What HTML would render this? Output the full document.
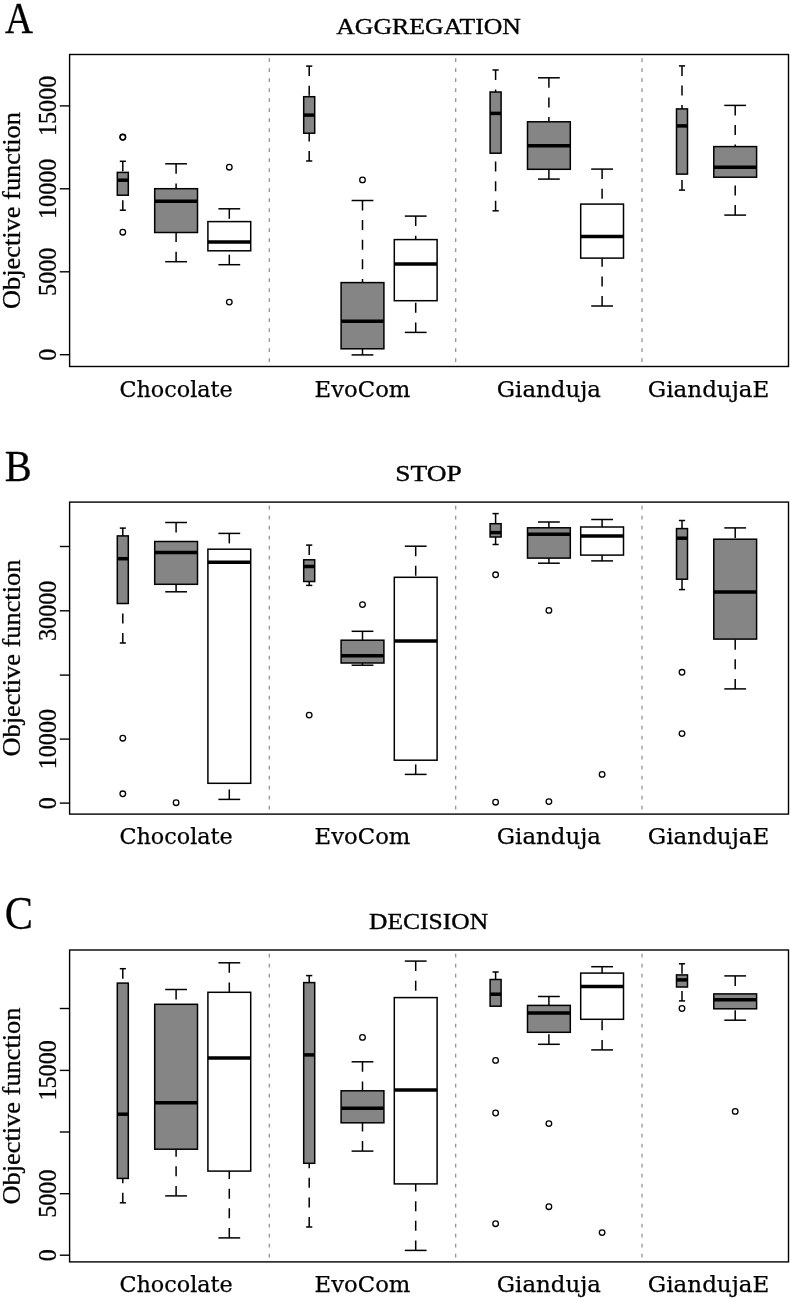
<!DOCTYPE html>
<html lang="en"><head><meta charset="utf-8"><title>Objective function boxplots</title>
<style>
html,body{margin:0;padding:0;background:#fff;}
body{width:791px;height:1301px;overflow:hidden;}
svg{display:block;}
.ser{font-family:"Liberation Serif","DejaVu Serif",serif;fill:#000;stroke:#000;stroke-width:0.3;}
.ttl{stroke-width:0.35;}
.xl{font-family:"DejaVu Serif","Liberation Serif",serif;fill:#000;font-size:21.6px;stroke:#000;stroke-width:0.25;}
.fr{fill:none;stroke:#000;stroke-width:1.4;}
.tk{stroke:#000;stroke-width:1.4;fill:none;}
.sep{stroke:#8a8a8a;stroke-width:1.2;stroke-dasharray:3.8 6.2;fill:none;}
.bx{stroke:#000;stroke-width:1.5;}
.wh{stroke:#000;stroke-width:1.5;fill:none;stroke-dasharray:10 9.6;}
.cp{stroke:#000;stroke-width:1.5;fill:none;}
.md{stroke:#000;stroke-width:3.5;fill:none;}
.ol{stroke:#000;stroke-width:1.3;fill:none;}
</style></head><body>
<svg width="791" height="1301" viewBox="0 0 791 1301">
<rect x="0" y="0" width="791" height="1301" fill="#fff"/>
<g>
<text class="ser" x="5.0" y="33.3" font-size="45" textLength="28.0" lengthAdjust="spacingAndGlyphs">A</text>
<text class="ser ttl" x="428.6" y="33.7" font-size="22.5" text-anchor="middle" textLength="184.7" lengthAdjust="spacingAndGlyphs">AGGREGATION</text>
<text class="ser" transform="translate(19.8 210.5) rotate(-90)" font-size="25" text-anchor="middle" textLength="197" lengthAdjust="spacingAndGlyphs">Objective function</text>
<line class="sep" x1="269.3" y1="58.2" x2="269.3" y2="366.5"/>
<line class="sep" x1="455.7" y1="58.2" x2="455.7" y2="366.5"/>
<line class="sep" x1="642.0" y1="58.2" x2="642.0" y2="366.5"/>
<line class="wh" x1="122.8" y1="161.3" x2="122.8" y2="172.4"/>
<line class="wh" x1="122.8" y1="210.2" x2="122.8" y2="195.2"/>
<line class="cp" x1="119.8" y1="161.3" x2="125.9" y2="161.3"/>
<line class="cp" x1="119.8" y1="210.2" x2="125.9" y2="210.2"/>
<rect class="bx" x="117.3" y="172.4" width="11.0" height="22.8" fill="#858585"/>
<line class="md" x1="117.3" y1="180.2" x2="128.3" y2="180.2"/>
<circle class="ol" cx="122.8" cy="137.3" r="2.8"/>
<circle class="ol" cx="122.8" cy="137.0" r="2.8"/>
<circle class="ol" cx="122.8" cy="232.2" r="2.8"/>
<line class="wh" x1="176.1" y1="163.8" x2="176.1" y2="188.7"/>
<line class="wh" x1="176.1" y1="261.7" x2="176.1" y2="232.5"/>
<line class="cp" x1="165.2" y1="163.8" x2="187.0" y2="163.8"/>
<line class="cp" x1="165.2" y1="261.7" x2="187.0" y2="261.7"/>
<rect class="bx" x="154.7" y="188.7" width="42.8" height="43.8" fill="#858585"/>
<line class="md" x1="154.7" y1="201.2" x2="197.5" y2="201.2"/>
<line class="wh" x1="229.3" y1="208.8" x2="229.3" y2="221.6"/>
<line class="wh" x1="229.3" y1="264.7" x2="229.3" y2="250.8"/>
<line class="cp" x1="218.4" y1="208.8" x2="240.2" y2="208.8"/>
<line class="cp" x1="218.4" y1="264.7" x2="240.2" y2="264.7"/>
<rect class="bx" x="207.9" y="221.6" width="42.8" height="29.2" fill="#fff"/>
<line class="md" x1="207.9" y1="241.9" x2="250.8" y2="241.9"/>
<circle class="ol" cx="229.3" cy="167.2" r="2.8"/>
<circle class="ol" cx="229.3" cy="302.1" r="2.8"/>
<line class="wh" x1="309.2" y1="66.1" x2="309.2" y2="96.7"/>
<line class="wh" x1="309.2" y1="161.0" x2="309.2" y2="133.2"/>
<line class="cp" x1="306.1" y1="66.1" x2="312.3" y2="66.1"/>
<line class="cp" x1="306.1" y1="161.0" x2="312.3" y2="161.0"/>
<rect class="bx" x="303.7" y="96.7" width="11.0" height="36.5" fill="#858585"/>
<line class="md" x1="303.7" y1="115.1" x2="314.7" y2="115.1"/>
<line class="wh" x1="362.5" y1="200.5" x2="362.5" y2="282.6"/>
<line class="wh" x1="362.5" y1="354.9" x2="362.5" y2="348.8"/>
<line class="cp" x1="351.6" y1="200.5" x2="373.4" y2="200.5"/>
<line class="cp" x1="351.6" y1="354.9" x2="373.4" y2="354.9"/>
<rect class="bx" x="341.1" y="282.6" width="42.8" height="66.2" fill="#858585"/>
<line class="md" x1="341.1" y1="321.3" x2="383.9" y2="321.3"/>
<circle class="ol" cx="362.5" cy="179.9" r="2.8"/>
<line class="wh" x1="415.7" y1="216.1" x2="415.7" y2="239.6"/>
<line class="wh" x1="415.7" y1="332.4" x2="415.7" y2="300.7"/>
<line class="cp" x1="404.8" y1="216.1" x2="426.6" y2="216.1"/>
<line class="cp" x1="404.8" y1="332.4" x2="426.6" y2="332.4"/>
<rect class="bx" x="394.3" y="239.6" width="42.8" height="61.1" fill="#fff"/>
<line class="md" x1="394.3" y1="264.0" x2="437.1" y2="264.0"/>
<line class="wh" x1="495.6" y1="70.0" x2="495.6" y2="92.0"/>
<line class="wh" x1="495.6" y1="210.8" x2="495.6" y2="153.2"/>
<line class="cp" x1="492.5" y1="70.0" x2="498.7" y2="70.0"/>
<line class="cp" x1="492.5" y1="210.8" x2="498.7" y2="210.8"/>
<rect class="bx" x="490.1" y="92.0" width="11.0" height="61.2" fill="#858585"/>
<line class="md" x1="490.1" y1="113.4" x2="501.1" y2="113.4"/>
<line class="wh" x1="548.9" y1="77.8" x2="548.9" y2="121.8"/>
<line class="wh" x1="548.9" y1="179.1" x2="548.9" y2="169.3"/>
<line class="cp" x1="538.0" y1="77.8" x2="559.8" y2="77.8"/>
<line class="cp" x1="538.0" y1="179.1" x2="559.8" y2="179.1"/>
<rect class="bx" x="527.5" y="121.8" width="42.8" height="47.5" fill="#858585"/>
<line class="md" x1="527.5" y1="145.7" x2="570.2" y2="145.7"/>
<line class="wh" x1="602.1" y1="169.1" x2="602.1" y2="204.1"/>
<line class="wh" x1="602.1" y1="306.0" x2="602.1" y2="258.1"/>
<line class="cp" x1="591.2" y1="169.1" x2="613.0" y2="169.1"/>
<line class="cp" x1="591.2" y1="306.0" x2="613.0" y2="306.0"/>
<rect class="bx" x="580.7" y="204.1" width="42.8" height="54.0" fill="#fff"/>
<line class="md" x1="580.7" y1="236.4" x2="623.5" y2="236.4"/>
<line class="wh" x1="682.0" y1="65.9" x2="682.0" y2="108.9"/>
<line class="wh" x1="682.0" y1="190.1" x2="682.0" y2="174.1"/>
<line class="cp" x1="678.9" y1="65.9" x2="685.1" y2="65.9"/>
<line class="cp" x1="678.9" y1="190.1" x2="685.1" y2="190.1"/>
<rect class="bx" x="676.5" y="108.9" width="11.0" height="65.2" fill="#858585"/>
<line class="md" x1="676.5" y1="125.9" x2="687.5" y2="125.9"/>
<line class="wh" x1="735.2" y1="105.4" x2="735.2" y2="146.6"/>
<line class="wh" x1="735.2" y1="215.1" x2="735.2" y2="177.2"/>
<line class="cp" x1="724.3" y1="105.4" x2="746.1" y2="105.4"/>
<line class="cp" x1="724.3" y1="215.1" x2="746.1" y2="215.1"/>
<rect class="bx" x="713.8" y="146.6" width="42.8" height="30.6" fill="#858585"/>
<line class="md" x1="713.8" y1="167.3" x2="756.6" y2="167.3"/>
<rect class="fr" x="69.6" y="54.5" width="718.9" height="312.0"/>
<line class="tk" x1="59.8" y1="354.7" x2="69.6" y2="354.7"/>
<text class="ser" transform="translate(55.5 354.7) rotate(-90)" font-size="25" text-anchor="middle" textLength="12.1" lengthAdjust="spacingAndGlyphs">0</text>
<line class="tk" x1="59.8" y1="271.8" x2="69.6" y2="271.8"/>
<text class="ser" transform="translate(55.5 271.8) rotate(-90)" font-size="25" text-anchor="middle" textLength="48.3" lengthAdjust="spacingAndGlyphs">5000</text>
<line class="tk" x1="59.8" y1="188.8" x2="69.6" y2="188.8"/>
<text class="ser" transform="translate(55.5 188.8) rotate(-90)" font-size="25" text-anchor="middle" textLength="60.4" lengthAdjust="spacingAndGlyphs">10000</text>
<line class="tk" x1="59.8" y1="105.9" x2="69.6" y2="105.9"/>
<text class="ser" transform="translate(55.5 105.9) rotate(-90)" font-size="25" text-anchor="middle" textLength="60.4" lengthAdjust="spacingAndGlyphs">15000</text>
<text class="xl" x="176.1" y="396.7" text-anchor="middle" textLength="113.4" lengthAdjust="spacingAndGlyphs">Chocolate</text>
<text class="xl" x="362.5" y="396.7" text-anchor="middle" textLength="95.8" lengthAdjust="spacingAndGlyphs">EvoCom</text>
<text class="xl" x="548.9" y="396.7" text-anchor="middle" textLength="104.1" lengthAdjust="spacingAndGlyphs">Gianduja</text>
<text class="xl" x="708.6" y="396.7" text-anchor="middle" textLength="121.6" lengthAdjust="spacingAndGlyphs">GiandujaE</text>
</g>
<g>
<text class="ser" x="4.8" y="480.9" font-size="44.5" textLength="27.0" lengthAdjust="spacingAndGlyphs">B</text>
<text class="ser ttl" x="428.6" y="481.3" font-size="22.5" text-anchor="middle" textLength="66.6" lengthAdjust="spacingAndGlyphs">STOP</text>
<text class="ser" transform="translate(19.8 658.1) rotate(-90)" font-size="25" text-anchor="middle" textLength="197" lengthAdjust="spacingAndGlyphs">Objective function</text>
<line class="sep" x1="269.3" y1="505.8" x2="269.3" y2="814.1"/>
<line class="sep" x1="455.7" y1="505.8" x2="455.7" y2="814.1"/>
<line class="sep" x1="642.0" y1="505.8" x2="642.0" y2="814.1"/>
<line class="wh" x1="122.8" y1="528.1" x2="122.8" y2="535.9"/>
<line class="wh" x1="122.8" y1="643.0" x2="122.8" y2="603.5"/>
<line class="cp" x1="119.8" y1="528.1" x2="125.9" y2="528.1"/>
<line class="cp" x1="119.8" y1="643.0" x2="125.9" y2="643.0"/>
<rect class="bx" x="117.3" y="535.9" width="11.0" height="67.6" fill="#858585"/>
<line class="md" x1="117.3" y1="558.7" x2="128.3" y2="558.7"/>
<circle class="ol" cx="122.8" cy="738.2" r="2.8"/>
<circle class="ol" cx="122.8" cy="793.8" r="2.8"/>
<line class="wh" x1="176.1" y1="522.5" x2="176.1" y2="541.5"/>
<line class="wh" x1="176.1" y1="591.8" x2="176.1" y2="584.3"/>
<line class="cp" x1="165.2" y1="522.5" x2="187.0" y2="522.5"/>
<line class="cp" x1="165.2" y1="591.8" x2="187.0" y2="591.8"/>
<rect class="bx" x="154.7" y="541.5" width="42.8" height="42.8" fill="#858585"/>
<line class="md" x1="154.7" y1="552.6" x2="197.5" y2="552.6"/>
<circle class="ol" cx="176.1" cy="802.7" r="2.8"/>
<line class="wh" x1="229.3" y1="533.4" x2="229.3" y2="549.2"/>
<line class="wh" x1="229.3" y1="799.4" x2="229.3" y2="783.3"/>
<line class="cp" x1="218.4" y1="533.4" x2="240.2" y2="533.4"/>
<line class="cp" x1="218.4" y1="799.4" x2="240.2" y2="799.4"/>
<rect class="bx" x="207.9" y="549.2" width="42.8" height="234.1" fill="#fff"/>
<line class="md" x1="207.9" y1="562.3" x2="250.8" y2="562.3"/>
<line class="wh" x1="309.2" y1="545.1" x2="309.2" y2="559.8"/>
<line class="wh" x1="309.2" y1="585.4" x2="309.2" y2="581.5"/>
<line class="cp" x1="306.1" y1="545.1" x2="312.3" y2="545.1"/>
<line class="cp" x1="306.1" y1="585.4" x2="312.3" y2="585.4"/>
<rect class="bx" x="303.7" y="559.8" width="11.0" height="21.7" fill="#858585"/>
<line class="md" x1="303.7" y1="566.5" x2="314.7" y2="566.5"/>
<circle class="ol" cx="309.2" cy="715.1" r="2.8"/>
<line class="wh" x1="362.5" y1="631.3" x2="362.5" y2="640.2"/>
<line class="wh" x1="362.5" y1="665.2" x2="362.5" y2="663.0"/>
<line class="cp" x1="351.6" y1="631.3" x2="373.4" y2="631.3"/>
<line class="cp" x1="351.6" y1="665.2" x2="373.4" y2="665.2"/>
<rect class="bx" x="341.1" y="640.2" width="42.8" height="22.8" fill="#858585"/>
<line class="md" x1="341.1" y1="655.8" x2="383.9" y2="655.8"/>
<circle class="ol" cx="362.5" cy="604.6" r="2.8"/>
<line class="wh" x1="415.7" y1="546.2" x2="415.7" y2="577.3"/>
<line class="wh" x1="415.7" y1="774.4" x2="415.7" y2="760.2"/>
<line class="cp" x1="404.8" y1="546.2" x2="426.6" y2="546.2"/>
<line class="cp" x1="404.8" y1="774.4" x2="426.6" y2="774.4"/>
<rect class="bx" x="394.3" y="577.3" width="42.8" height="182.9" fill="#fff"/>
<line class="md" x1="394.3" y1="641.0" x2="437.1" y2="641.0"/>
<line class="wh" x1="495.6" y1="513.6" x2="495.6" y2="523.7"/>
<line class="wh" x1="495.6" y1="544.5" x2="495.6" y2="537.0"/>
<line class="cp" x1="492.5" y1="513.6" x2="498.7" y2="513.6"/>
<line class="cp" x1="492.5" y1="544.5" x2="498.7" y2="544.5"/>
<rect class="bx" x="490.1" y="523.7" width="11.0" height="13.3" fill="#858585"/>
<line class="md" x1="490.1" y1="532.6" x2="501.1" y2="532.6"/>
<circle class="ol" cx="495.6" cy="574.8" r="2.8"/>
<circle class="ol" cx="495.6" cy="802.2" r="2.8"/>
<line class="wh" x1="548.9" y1="522.0" x2="548.9" y2="527.8"/>
<line class="wh" x1="548.9" y1="563.2" x2="548.9" y2="558.1"/>
<line class="cp" x1="538.0" y1="522.0" x2="559.8" y2="522.0"/>
<line class="cp" x1="538.0" y1="563.2" x2="559.8" y2="563.2"/>
<rect class="bx" x="527.5" y="527.8" width="42.8" height="30.3" fill="#858585"/>
<line class="md" x1="527.5" y1="534.2" x2="570.2" y2="534.2"/>
<circle class="ol" cx="548.9" cy="610.4" r="2.8"/>
<circle class="ol" cx="548.9" cy="801.6" r="2.8"/>
<line class="wh" x1="602.1" y1="519.5" x2="602.1" y2="527.0"/>
<line class="wh" x1="602.1" y1="560.9" x2="602.1" y2="555.1"/>
<line class="cp" x1="591.2" y1="519.5" x2="613.0" y2="519.5"/>
<line class="cp" x1="591.2" y1="560.9" x2="613.0" y2="560.9"/>
<rect class="bx" x="580.7" y="527.0" width="42.8" height="28.1" fill="#fff"/>
<line class="md" x1="580.7" y1="535.9" x2="623.5" y2="535.9"/>
<circle class="ol" cx="602.1" cy="774.4" r="2.8"/>
<line class="wh" x1="682.0" y1="520.5" x2="682.0" y2="528.6"/>
<line class="wh" x1="682.0" y1="589.6" x2="682.0" y2="579.2"/>
<line class="cp" x1="678.9" y1="520.5" x2="685.1" y2="520.5"/>
<line class="cp" x1="678.9" y1="589.6" x2="685.1" y2="589.6"/>
<rect class="bx" x="676.5" y="528.6" width="11.0" height="50.6" fill="#858585"/>
<line class="md" x1="676.5" y1="538.2" x2="687.5" y2="538.2"/>
<circle class="ol" cx="682.0" cy="672.3" r="2.8"/>
<circle class="ol" cx="682.0" cy="733.6" r="2.8"/>
<line class="wh" x1="735.2" y1="527.9" x2="735.2" y2="539.2"/>
<line class="wh" x1="735.2" y1="688.9" x2="735.2" y2="639.1"/>
<line class="cp" x1="724.3" y1="527.9" x2="746.1" y2="527.9"/>
<line class="cp" x1="724.3" y1="688.9" x2="746.1" y2="688.9"/>
<rect class="bx" x="713.8" y="539.2" width="42.8" height="99.9" fill="#858585"/>
<line class="md" x1="713.8" y1="592.1" x2="756.6" y2="592.1"/>
<rect class="fr" x="69.6" y="502.1" width="718.9" height="312.0"/>
<line class="tk" x1="59.8" y1="803.1" x2="69.6" y2="803.1"/>
<text class="ser" transform="translate(55.5 803.1) rotate(-90)" font-size="25" text-anchor="middle" textLength="12.1" lengthAdjust="spacingAndGlyphs">0</text>
<line class="tk" x1="59.8" y1="739.1" x2="69.6" y2="739.1"/>
<text class="ser" transform="translate(55.5 739.1) rotate(-90)" font-size="25" text-anchor="middle" textLength="60.4" lengthAdjust="spacingAndGlyphs">10000</text>
<line class="tk" x1="59.8" y1="675.1" x2="69.6" y2="675.1"/>
<line class="tk" x1="59.8" y1="610.8" x2="69.6" y2="610.8"/>
<text class="ser" transform="translate(55.5 610.8) rotate(-90)" font-size="25" text-anchor="middle" textLength="60.4" lengthAdjust="spacingAndGlyphs">30000</text>
<line class="tk" x1="59.8" y1="546.5" x2="69.6" y2="546.5"/>
<text class="xl" x="176.1" y="844.3" text-anchor="middle" textLength="113.4" lengthAdjust="spacingAndGlyphs">Chocolate</text>
<text class="xl" x="362.5" y="844.3" text-anchor="middle" textLength="95.8" lengthAdjust="spacingAndGlyphs">EvoCom</text>
<text class="xl" x="548.9" y="844.3" text-anchor="middle" textLength="104.1" lengthAdjust="spacingAndGlyphs">Gianduja</text>
<text class="xl" x="708.6" y="844.3" text-anchor="middle" textLength="121.6" lengthAdjust="spacingAndGlyphs">GiandujaE</text>
</g>
<g>
<text class="ser" x="4.8" y="928.8" font-size="45.5" textLength="28.2" lengthAdjust="spacingAndGlyphs">C</text>
<text class="ser ttl" x="428.6" y="929.2" font-size="22.5" text-anchor="middle" textLength="119.0" lengthAdjust="spacingAndGlyphs">DECISION</text>
<text class="ser" transform="translate(19.8 1106.0) rotate(-90)" font-size="25" text-anchor="middle" textLength="197" lengthAdjust="spacingAndGlyphs">Objective function</text>
<line class="sep" x1="269.3" y1="953.7" x2="269.3" y2="1261.9"/>
<line class="sep" x1="455.7" y1="953.7" x2="455.7" y2="1261.9"/>
<line class="sep" x1="642.0" y1="953.7" x2="642.0" y2="1261.9"/>
<line class="wh" x1="122.8" y1="968.7" x2="122.8" y2="983.1"/>
<line class="wh" x1="122.8" y1="1202.8" x2="122.8" y2="1178.4"/>
<line class="cp" x1="119.8" y1="968.7" x2="125.9" y2="968.7"/>
<line class="cp" x1="119.8" y1="1202.8" x2="125.9" y2="1202.8"/>
<rect class="bx" x="117.3" y="983.1" width="11.0" height="195.3" fill="#858585"/>
<line class="md" x1="117.3" y1="1114.2" x2="128.3" y2="1114.2"/>
<line class="wh" x1="176.1" y1="989.5" x2="176.1" y2="1004.3"/>
<line class="wh" x1="176.1" y1="1195.9" x2="176.1" y2="1149.2"/>
<line class="cp" x1="165.2" y1="989.5" x2="187.0" y2="989.5"/>
<line class="cp" x1="165.2" y1="1195.9" x2="187.0" y2="1195.9"/>
<rect class="bx" x="154.7" y="1004.3" width="42.8" height="144.9" fill="#858585"/>
<line class="md" x1="154.7" y1="1102.8" x2="197.5" y2="1102.8"/>
<line class="wh" x1="229.3" y1="962.8" x2="229.3" y2="992.3"/>
<line class="wh" x1="229.3" y1="1237.9" x2="229.3" y2="1171.1"/>
<line class="cp" x1="218.4" y1="962.8" x2="240.2" y2="962.8"/>
<line class="cp" x1="218.4" y1="1237.9" x2="240.2" y2="1237.9"/>
<rect class="bx" x="207.9" y="992.3" width="42.8" height="178.8" fill="#fff"/>
<line class="md" x1="207.9" y1="1057.9" x2="250.8" y2="1057.9"/>
<line class="wh" x1="309.2" y1="975.6" x2="309.2" y2="982.6"/>
<line class="wh" x1="309.2" y1="1227.0" x2="309.2" y2="1163.3"/>
<line class="cp" x1="306.1" y1="975.6" x2="312.3" y2="975.6"/>
<line class="cp" x1="306.1" y1="1227.0" x2="312.3" y2="1227.0"/>
<rect class="bx" x="303.7" y="982.6" width="11.0" height="180.7" fill="#858585"/>
<line class="md" x1="303.7" y1="1054.9" x2="314.7" y2="1054.9"/>
<line class="wh" x1="362.5" y1="1061.8" x2="362.5" y2="1090.8"/>
<line class="wh" x1="362.5" y1="1151.1" x2="362.5" y2="1122.8"/>
<line class="cp" x1="351.6" y1="1061.8" x2="373.4" y2="1061.8"/>
<line class="cp" x1="351.6" y1="1151.1" x2="373.4" y2="1151.1"/>
<rect class="bx" x="341.1" y="1090.8" width="42.8" height="32.0" fill="#858585"/>
<line class="md" x1="341.1" y1="1108.3" x2="383.9" y2="1108.3"/>
<circle class="ol" cx="362.5" cy="1037.4" r="2.8"/>
<line class="wh" x1="415.7" y1="961.1" x2="415.7" y2="997.6"/>
<line class="wh" x1="415.7" y1="1250.4" x2="415.7" y2="1183.9"/>
<line class="cp" x1="404.8" y1="961.1" x2="426.6" y2="961.1"/>
<line class="cp" x1="404.8" y1="1250.4" x2="426.6" y2="1250.4"/>
<rect class="bx" x="394.3" y="997.6" width="42.8" height="186.3" fill="#fff"/>
<line class="md" x1="394.3" y1="1089.9" x2="437.1" y2="1089.9"/>
<line class="wh" x1="495.6" y1="972.0" x2="495.6" y2="979.5"/>
<line class="cp" x1="492.5" y1="972.0" x2="498.7" y2="972.0"/>
<rect class="bx" x="490.1" y="979.5" width="11.0" height="26.7" fill="#858585"/>
<line class="md" x1="490.1" y1="994.2" x2="501.1" y2="994.2"/>
<circle class="ol" cx="495.6" cy="1060.4" r="2.8"/>
<circle class="ol" cx="495.6" cy="1113.0" r="2.8"/>
<circle class="ol" cx="495.6" cy="1223.7" r="2.8"/>
<line class="wh" x1="548.9" y1="996.5" x2="548.9" y2="1005.4"/>
<line class="wh" x1="548.9" y1="1044.3" x2="548.9" y2="1032.3"/>
<line class="cp" x1="538.0" y1="996.5" x2="559.8" y2="996.5"/>
<line class="cp" x1="538.0" y1="1044.3" x2="559.8" y2="1044.3"/>
<rect class="bx" x="527.5" y="1005.4" width="42.8" height="26.9" fill="#858585"/>
<line class="md" x1="527.5" y1="1012.9" x2="570.2" y2="1012.9"/>
<circle class="ol" cx="548.9" cy="1123.6" r="2.8"/>
<circle class="ol" cx="548.9" cy="1206.7" r="2.8"/>
<line class="wh" x1="602.1" y1="966.7" x2="602.1" y2="973.1"/>
<line class="wh" x1="602.1" y1="1049.9" x2="602.1" y2="1019.3"/>
<line class="cp" x1="591.2" y1="966.7" x2="613.0" y2="966.7"/>
<line class="cp" x1="591.2" y1="1049.9" x2="613.0" y2="1049.9"/>
<rect class="bx" x="580.7" y="973.1" width="42.8" height="46.2" fill="#fff"/>
<line class="md" x1="580.7" y1="986.5" x2="623.5" y2="986.5"/>
<circle class="ol" cx="602.1" cy="1232.6" r="2.8"/>
<line class="wh" x1="682.0" y1="963.8" x2="682.0" y2="974.9"/>
<line class="wh" x1="682.0" y1="1000.9" x2="682.0" y2="987.0"/>
<line class="cp" x1="678.9" y1="963.8" x2="685.1" y2="963.8"/>
<line class="cp" x1="678.9" y1="1000.9" x2="685.1" y2="1000.9"/>
<rect class="bx" x="676.5" y="974.9" width="11.0" height="12.1" fill="#858585"/>
<line class="md" x1="676.5" y1="979.9" x2="687.5" y2="979.9"/>
<circle class="ol" cx="682.0" cy="1008.5" r="2.8"/>
<line class="wh" x1="735.2" y1="975.9" x2="735.2" y2="993.9"/>
<line class="wh" x1="735.2" y1="1020.2" x2="735.2" y2="1008.8"/>
<line class="cp" x1="724.3" y1="975.9" x2="746.1" y2="975.9"/>
<line class="cp" x1="724.3" y1="1020.2" x2="746.1" y2="1020.2"/>
<rect class="bx" x="713.8" y="993.9" width="42.8" height="14.9" fill="#858585"/>
<line class="md" x1="713.8" y1="999.7" x2="756.6" y2="999.7"/>
<circle class="ol" cx="735.2" cy="1111.4" r="2.8"/>
<rect class="fr" x="69.6" y="950.0" width="718.9" height="311.9"/>
<line class="tk" x1="59.8" y1="1255.2" x2="69.6" y2="1255.2"/>
<text class="ser" transform="translate(55.5 1255.2) rotate(-90)" font-size="25" text-anchor="middle" textLength="12.1" lengthAdjust="spacingAndGlyphs">0</text>
<line class="tk" x1="59.8" y1="1193.7" x2="69.6" y2="1193.7"/>
<text class="ser" transform="translate(55.5 1193.7) rotate(-90)" font-size="25" text-anchor="middle" textLength="48.3" lengthAdjust="spacingAndGlyphs">5000</text>
<line class="tk" x1="59.8" y1="1132.0" x2="69.6" y2="1132.0"/>
<line class="tk" x1="59.8" y1="1070.4" x2="69.6" y2="1070.4"/>
<text class="ser" transform="translate(55.5 1070.4) rotate(-90)" font-size="25" text-anchor="middle" textLength="60.4" lengthAdjust="spacingAndGlyphs">15000</text>
<line class="tk" x1="59.8" y1="1008.5" x2="69.6" y2="1008.5"/>
<text class="xl" x="176.1" y="1292.1" text-anchor="middle" textLength="113.4" lengthAdjust="spacingAndGlyphs">Chocolate</text>
<text class="xl" x="362.5" y="1292.1" text-anchor="middle" textLength="95.8" lengthAdjust="spacingAndGlyphs">EvoCom</text>
<text class="xl" x="548.9" y="1292.1" text-anchor="middle" textLength="104.1" lengthAdjust="spacingAndGlyphs">Gianduja</text>
<text class="xl" x="708.6" y="1292.1" text-anchor="middle" textLength="121.6" lengthAdjust="spacingAndGlyphs">GiandujaE</text>
</g>
</svg>
</body></html>
